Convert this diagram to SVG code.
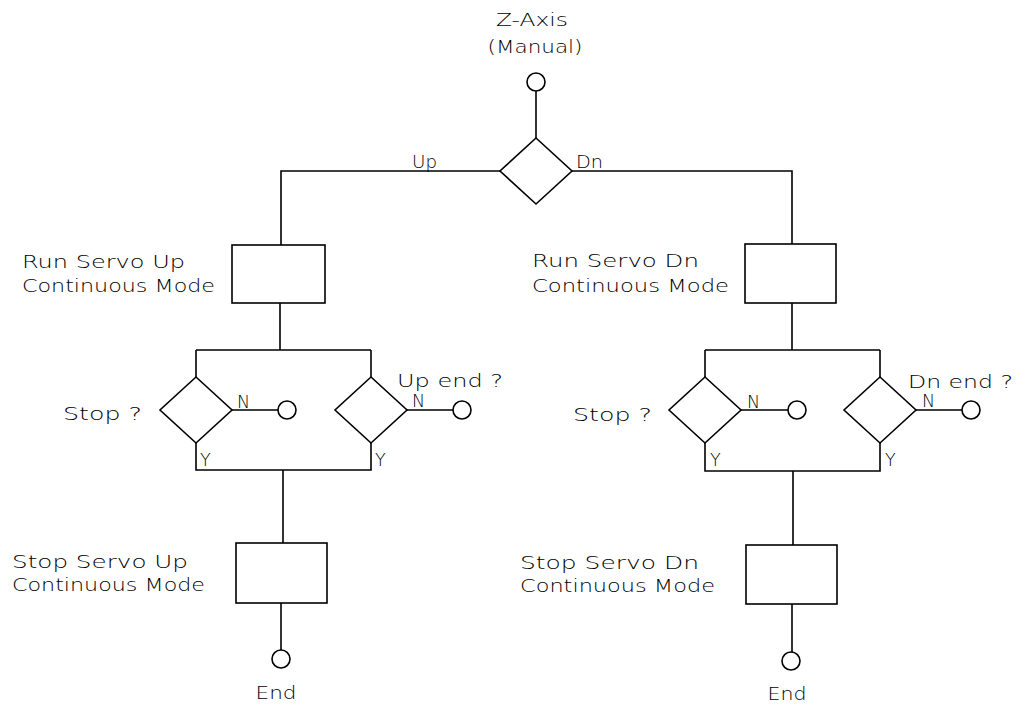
<svg xmlns="http://www.w3.org/2000/svg" width="1027" height="708" viewBox="0 0 1027 708">
<style>
.ln{fill:none;stroke:#000;stroke-width:1.6}
.sh{fill:#fff;stroke:#000;stroke-width:1.6}
.t{font-family:"DejaVu Sans","Liberation Sans",Arial,sans-serif;font-weight:200;font-size:17px;fill:#000}
.s{font-family:"DejaVu Sans","Liberation Sans",Arial,sans-serif;font-weight:200;font-size:17.5px;fill:#000}
</style>
<rect width="1027" height="708" fill="#fff"/>
<g id="connectors" class="ln">
<path d="M536,91 V138"/>
<path d="M500,171 H281 V245"/>
<path d="M572,171 H792 V244"/>
<path d="M280,303 V350 M196,350 H371 M196,350 V377 M371,350 V377"/>
<path d="M232,410 H278 M407,410 H453"/>
<path d="M196,443 V470 H371 V443 M283,470 V543"/>
<path d="M281,603 V650"/>
<path d="M792,303 V350 M705,350 H880 M705,350 V377 M880,350 V377"/>
<path d="M741,410 H788 M916,410 H962"/>
<path d="M705,443 V471 H880 V443 M793,471 V545"/>
<path d="M792,604 V652"/>
</g>
<g id="start">
<circle class="sh" cx="536" cy="82" r="9"/>
<text class="t" x="532" y="26" text-anchor="middle" textLength="72" lengthAdjust="spacingAndGlyphs">Z-Axis</text>
<text class="t" x="535" y="53" text-anchor="middle" textLength="95" lengthAdjust="spacingAndGlyphs">(Manual)</text>
</g>
<g id="dir-decision">
<polygon class="sh" points="536,138 572,171 536,204 500,171"/>
<text class="t" x="412" y="168" textLength="25" lengthAdjust="spacingAndGlyphs">Up</text>
<text class="t" x="576" y="168" textLength="27" lengthAdjust="spacingAndGlyphs">Dn</text>
</g>
<g id="run-up">
<rect class="sh" x="232" y="245" width="93" height="58"/>
<text class="t" x="22" y="268" textLength="163" lengthAdjust="spacingAndGlyphs">Run Servo Up</text>
<text class="t" x="22" y="292" textLength="193" lengthAdjust="spacingAndGlyphs">Continuous Mode</text>
</g>
<g id="run-dn">
<rect class="sh" x="745" y="244" width="91" height="59"/>
<text class="t" x="532" y="267" textLength="167" lengthAdjust="spacingAndGlyphs">Run Servo Dn</text>
<text class="t" x="532" y="292" textLength="197" lengthAdjust="spacingAndGlyphs">Continuous Mode</text>
</g>
<g id="stop-up-decision">
<polygon class="sh" points="196,377 232,410 196,443 160,410"/>
<text class="t" x="63" y="420" textLength="79" lengthAdjust="spacingAndGlyphs">Stop ?</text>
<text class="s" x="237" y="408">N</text>
<text class="s" x="200" y="466">Y</text>
<circle class="sh" cx="287" cy="410" r="9"/>
</g>
<g id="upend-decision">
<polygon class="sh" points="371,377 407,410 371,443 335,410"/>
<text class="t" x="397" y="387" textLength="106" lengthAdjust="spacingAndGlyphs">Up end ?</text>
<text class="s" x="412" y="407">N</text>
<text class="s" x="375" y="466">Y</text>
<circle class="sh" cx="462" cy="410" r="9"/>
</g>
<g id="stop-dn-decision">
<polygon class="sh" points="705,377 741,410 705,443 669,410"/>
<text class="t" x="573" y="421" textLength="79" lengthAdjust="spacingAndGlyphs">Stop ?</text>
<text class="s" x="747" y="408">N</text>
<text class="s" x="710" y="466">Y</text>
<circle class="sh" cx="797" cy="410" r="9"/>
</g>
<g id="dnend-decision">
<polygon class="sh" points="880,377 916,410 880,443 844,410"/>
<text class="t" x="908" y="388" textLength="105" lengthAdjust="spacingAndGlyphs">Dn end ?</text>
<text class="s" x="922" y="407">N</text>
<text class="s" x="885" y="466">Y</text>
<circle class="sh" cx="971" cy="410" r="9"/>
</g>
<g id="stop-up">
<rect class="sh" x="236" y="543" width="91" height="60"/>
<text class="t" x="12" y="568" textLength="176" lengthAdjust="spacingAndGlyphs">Stop Servo Up</text>
<text class="t" x="12" y="591" textLength="193" lengthAdjust="spacingAndGlyphs">Continuous Mode</text>
</g>
<g id="stop-dn">
<rect class="sh" x="746" y="545" width="91" height="59"/>
<text class="t" x="520" y="569" textLength="179" lengthAdjust="spacingAndGlyphs">Stop Servo Dn</text>
<text class="t" x="520" y="592" textLength="195" lengthAdjust="spacingAndGlyphs">Continuous Mode</text>
</g>
<g id="end-up">
<circle class="sh" cx="281" cy="659" r="9"/>
<text class="t" x="276" y="699" text-anchor="middle" textLength="41" lengthAdjust="spacingAndGlyphs">End</text>
</g>
<g id="end-dn">
<circle class="sh" cx="791" cy="661" r="9"/>
<text class="t" x="787" y="700" text-anchor="middle" textLength="39" lengthAdjust="spacingAndGlyphs">End</text>
</g>
</svg>
